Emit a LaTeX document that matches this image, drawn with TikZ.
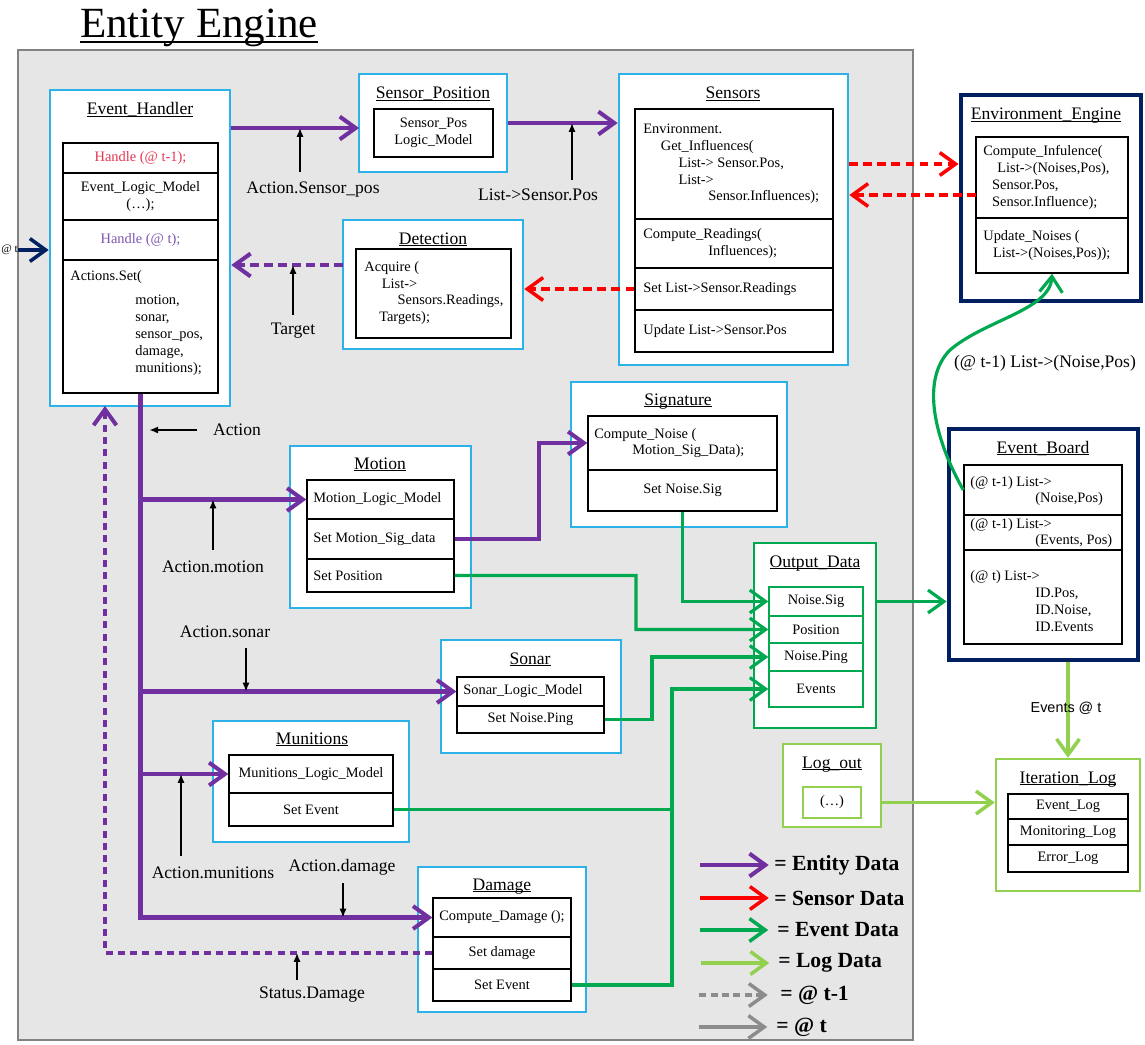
\documentclass[tikz,border=0pt]{standalone}
\usepackage{fontspec}
\setmainfont{Liberation Serif}
\newfontfamily\evsans{Liberation Sans}
\usetikzlibrary{arrows.meta,fit}
\definecolor{entitypurple}{RGB}{112,48,160}
\definecolor{sensorred}{RGB}{255,0,0}
\definecolor{eventgreen}{RGB}{0,168,80}
\definecolor{loggreen}{RGB}{146,208,80}
\definecolor{modcyan}{RGB}{45,178,232}
\definecolor{enginenavy}{RGB}{0,32,96}
\definecolor{framegray}{RGB}{230,230,230}
\definecolor{framedark}{RGB}{130,130,130}
\definecolor{legendgray}{RGB}{140,140,140}
\definecolor{handlered}{RGB}{232,52,82}
\definecolor{handlepurple}{RGB}{125,85,175}
\newcommand{\cellfont}{\fontsize{8.2}{9.6}\selectfont}
\newcommand{\labelfont}{\fontsize{10}{12}\selectfont}
\newsavebox\ulbox
\newcommand{\modul}[1]{\sbox\ulbox{#1}\rlap{\rule[-0.12em]{\wd\ulbox}{0.06em}}\usebox\ulbox}

\begin{document}
\begin{tikzpicture}[x=0.02cm,y=-0.02cm,
  modbox/.style={draw=modcyan,line width=1.5pt,fill=white,inner sep=0pt},
  enginebox/.style={draw=enginenavy,line width=2.8pt,fill=white,inner sep=0pt},
  outbox/.style={draw=eventgreen,line width=1.4pt,fill=white,inner sep=0pt},
  logbox/.style={draw=loggreen,line width=1.4pt,fill=white,inner sep=0pt},
  cell/.style={draw,line width=0.8pt,fill=white,inner sep=0pt},
  modtitle/.style={font=\labelfont,anchor=base,inner sep=0pt},
  ctext/.style={font=\cellfont,align=center,inner sep=0pt},
  ltext/.style={font=\cellfont,align=left,anchor=west,inner sep=0pt},
  outlabel/.style={font=\labelfont,inner sep=0pt},
  legendtext/.style={font=\fontsize{12.3}{14}\selectfont\bfseries,anchor=west,inner sep=0pt},
  barb/.style={-{Straight Barb[length=9pt,width=13pt]}},
  entity/.style={draw=entitypurple,line width=2.3pt},
  sensor/.style={draw=sensorred,line width=2pt,dash pattern=on 5pt off 3pt},
  event/.style={draw=eventgreen,line width=1.8pt},
  logdata/.style={draw=loggreen,line width=2pt},
  pointer/.style={draw=black,line width=0.8pt,-{Latex[length=5pt,width=4pt]}}]
\useasboundingbox (0,0) rectangle (1145,1044);
\node(eeframe) [draw=framedark,line width=1.2pt,fill=framegray,inner sep=0pt,fit={(18,50) (913,1040)}] {};
\node(eetitle) [font=\fontsize{24.5}{28}\selectfont,anchor=base,inner sep=0pt] at (199,38) {\modul{Entity Engine}};

\node(eh) [modbox,fit={(50,90) (230,406)}] {};
\node(ehT) [modtitle] at (140,115) {\modul{Event\_Handler}};
\node(ehA) [cell,fit={(63,143) (218,173)}] {};
\node(ehB) [cell,fit={(63,173) (218,220)}] {};
\node(ehC) [cell,fit={(63,220) (218,260)}] {};
\node(ehD) [cell,fit={(63,260) (218,393)}] {};
\node(ehAt) [ctext,text=handlered] at (ehA) {Handle (@ t-1);};
\node(ehBt) [ctext] at (ehB) {Event\_Logic\_Model\\(\ldots);};
\node(ehCt) [ctext,text=handlepurple] at (ehC) {Handle (@ t);};
\node(ehDt) [ltext] at (70,323) {Actions.Set(\\[4pt]\hspace*{37pt}motion,\\\hspace*{37pt}sonar,\\\hspace*{37pt}sensor\_pos,\\\hspace*{37pt}damage,\\\hspace*{37pt}munitions);};

\node(sp) [modbox,fit={(359,74) (507,172)}] {};
\node(spT) [modtitle] at (433,99) {\modul{Sensor\_Position}};
\node(spA) [cell,fit={(374,109) (493,157)}] {};
\node(spAt) [ctext] at (spA) {Sensor\_Pos\\Logic\_Model};

\node(sens) [modbox,fit={(619,74) (848,365)}] {};
\node(sensT) [modtitle] at (733,99) {\modul{Sensors}};
\node(sA) [cell,fit={(635,109) (833,219)}] {};
\node(sB) [cell,fit={(635,219) (833,268)}] {};
\node(sC) [cell,fit={(635,268) (833,310)}] {};
\node(sD) [cell,fit={(635,310) (833,352)}] {};
\node(sAt) [ltext] at (643,164) {Environment.\\\hspace*{10pt}Get\_Influences(\\\hspace*{20pt}List-> Sensor.Pos,\\\hspace*{20pt}List->\\\hspace*{37pt}Sensor.Influences);};
\node(sBt) [ltext] at (643,243.5) {Compute\_Readings(\\\hspace*{37pt}Influences);};
\node(sCt) [ltext] at (643,289) {Set List->Sensor.Readings};
\node(sDt) [ltext] at (643,331) {Update List->Sensor.Pos};

\node(env) [enginebox,fit={(961,95) (1141,301)}] {};
\node(envT) [modtitle] at (1046,120) {\modul{Environment\_Engine}};
\node(eA) [cell,fit={(976,137) (1128,218)}] {};
\node(eB) [cell,fit={(976,218) (1128,273)}] {};
\node(eAt) [ltext] at (983,177.5) {Compute\_Infulence(\\\hspace*{8pt}List->(Noises,Pos),\\\hspace*{5pt}Sensor.Pos,\\\hspace*{5pt}Sensor.Influence);};
\node(eBt) [ltext] at (983,245.5) {Update\_Noises (\\\hspace*{5.5pt}List->(Noises,Pos));};

\node(det) [modbox,fit={(343,220) (523,349)}] {};
\node(detT) [modtitle] at (433,244) {\modul{Detection}};
\node(dA) [cell,fit={(356,249) (511,338)}] {};
\node(dAt) [ltext] at (364,293) {Acquire (\\\hspace*{10pt}List->\\\hspace*{19pt}Sensors.Readings,\\\hspace*{8.5pt}Targets);};

\node(mot) [modbox,fit={(290,446) (471,608)}] {};
\node(motT) [modtitle] at (380,469) {\modul{Motion}};
\node(mA) [cell,fit={(307,480) (454,519)}] {};
\node(mB) [cell,fit={(307,519) (454,559)}] {};
\node(mC) [cell,fit={(307,559) (454,592)}] {};
\node(mAt) [ltext] at (313,499.5) {Motion\_Logic\_Model};
\node(mBt) [ltext] at (313,539) {Set Motion\_Sig\_data};
\node(mCt) [ltext] at (313,575.5) {Set Position};

\node(sig) [modbox,fit={(571,382) (787,527)}] {};
\node(sigT) [modtitle] at (678,405) {\modul{Signature}};
\node(sigA) [cell,fit={(588,416) (777,470)}] {};
\node(sigB) [cell,fit={(588,470) (777,511)}] {};
\node(sigAt) [ltext] at (594,443) {Compute\_Noise (\\\hspace*{21.6pt}Motion\_Sig\_Data);};
\node(sigBt) [ctext] at (sigB) {Set Noise.Sig};

\node(od) [outbox,fit={(754,543) (876,728)}] {};
\node(odT) [modtitle] at (815,567) {\modul{Output\_Data}};
\node(oA) [cell,draw=eventgreen,fit={(769,587) (863,616)}] {};
\node(oB) [cell,draw=eventgreen,fit={(769,616) (863,643)}] {};
\node(oC) [cell,draw=eventgreen,fit={(769,643) (863,671)}] {};
\node(oD) [cell,draw=eventgreen,fit={(769,671) (863,707)}] {};
\node(oAt) [ctext] at (oA) {Noise.Sig};
\node(oBt) [ctext] at (oB) {Position};
\node(oCt) [ctext] at (oC) {Noise.Ping};
\node(oDt) [ctext] at (oD) {Events};

\node(so) [modbox,fit={(441,640) (621,753)}] {};
\node(soT) [modtitle] at (530,664) {\modul{Sonar}};
\node(soA) [cell,fit={(457,677) (604,706)}] {};
\node(soB) [cell,fit={(457,706) (604,733)}] {};
\node(soAt) [ltext] at (463,691.5) {Sonar\_Logic\_Model};
\node(soBt) [ctext] at (soB) {Set Noise.Ping};

\node(mu) [modbox,fit={(213,721) (409,842)}] {};
\node(muT) [modtitle] at (312,744) {\modul{Munitions}};
\node(muA) [cell,fit={(229,755) (393,793)}] {};
\node(muB) [cell,fit={(229,793) (393,826)}] {};
\node(muAt) [ctext] at (muA) {Munitions\_Logic\_Model};
\node(muBt) [ctext] at (muB) {Set Event};

\node(dm) [modbox,fit={(418,867) (586,1012)}] {};
\node(dmT) [modtitle] at (502,890) {\modul{Damage}};
\node(dmA) [cell,fit={(433,898) (571,937)}] {};
\node(dmB) [cell,fit={(433,937) (571,969)}] {};
\node(dmC) [cell,fit={(433,969) (571,1001)}] {};
\node(dmAt) [ltext] at (439,917.5) {Compute\_Damage ();};
\node(dmBt) [ctext] at (dmB) {Set damage};
\node(dmCt) [ctext] at (dmC) {Set Event};

\node(lo) [logbox,fit={(783,744) (881,827)}] {};
\node(loT) [modtitle] at (832,768) {\modul{Log\_out}};
\node(loA) [cell,draw=loggreen,fit={(803,787) (861,818)}] {};
\node(loAt) [ctext] at (loA) {(\ldots)};

\node(eb) [enginebox,fit={(949,429) (1138,660)}] {};
\node(ebT) [modtitle] at (1043,453) {\modul{Event\_Board}};
\node(ebA) [cell,fit={(964,465) (1122,515)}] {};
\node(ebB) [cell,fit={(964,515) (1122,550)}] {};
\node(ebC) [cell,fit={(964,550) (1122,644)}] {};
\node(ebAt) [ltext] at (970,491) {(@ t-1) List->\\\hspace*{37pt}(Noise,Pos)};
\node(ebBt) [ltext] at (970,533) {(@ t-1) List->\\\hspace*{37pt}(Events, Pos)};
\node(ebCt) [ltext] at (970,601) {(@ t) List->\\\hspace*{37pt}ID.Pos,\\\hspace*{37pt}ID.Noise,\\\hspace*{37pt}ID.Events};

\node(il) [logbox,fit={(996,759) (1140,891)}] {};
\node(ilT) [modtitle] at (1068,783) {\modul{Iteration\_Log}};
\node(ilA) [cell,fit={(1008,794) (1128,819)}] {};
\node(ilB) [cell,fit={(1008,819) (1128,845)}] {};
\node(ilC) [cell,fit={(1008,845) (1128,872)}] {};
\node(ilAt) [ctext] at (ilA) {Event\_Log};
\node(ilBt) [ctext] at (ilB) {Monitoring\_Log};
\node(ilCt) [ctext] at (ilC) {Error\_Log};

\coordinate (spin) at (359,128);
\coordinate (envout) at (976,195);
\coordinate (detout) at (343,265);
\coordinate (jsig) at (539,443);
\coordinate (jpos) at (636,629.5);
\coordinate (jping) at (652,657);
\coordinate (jev) at (672,689);
\coordinate (jstat) at (105,406);

\node(tin) [font=\fontsize{6.5}{8}\selectfont,anchor=west,inner sep=0pt] at (1,250) {@ t};
\draw[draw=enginenavy,line width=2pt,barb] (tin.east) -- (tin.east -| eh.west);
\draw[entity,barb] (spin -| eh.east) -- (spin);
\draw[entity,barb] (sp.east) -- (sp.east -| sens.west);
\draw[sensor,barb] (sA.east -| sens.east) -- (sA.east -| env.west);
\draw[sensor,barb] (envout) -- (envout -| sens.east);
\draw[sensor,barb] (sC.west) -- (sC.west -| det.east);
\draw[entity,dash pattern=on 5pt off 3pt,barb] (detout) -- (detout -| eh.east);
\draw[entity,barb] (ehD.south) |- (dmA.west);
\draw[entity,barb] (ehD.south |- mA.west) -- (mA.west);
\draw[entity,barb] (ehD.south |- soA.west) -- (soA.west);
\draw[entity,barb] (ehD.south |- muA.west) -- (muA.west);
\draw[entity,dash pattern=on 4pt off 3pt,barb] (dmB.west) -| (jstat);
\draw[entity,barb] (mB.east) -| (jsig) -- (sigA.west);
\draw[event,barb] (sigB.south) |- (oA.west);
\draw[event,barb] (mC.east) -| (jpos) -- (oB.west);
\draw[event,barb] (soB.east) -| (jping) -- (oC.west);
\draw[event,barb] (muB.east) -| (jev) -- (oD.west);
\draw[event] (dmC.east) -| (jev |- muB.east);
\draw[event,barb] (oA.east -| od.east) -- (oA.east -| eb.west);
\draw[event,barb] (ebA.west) .. controls (935,440) and (920,380) .. (950,350) .. controls (985,320) and (1050,310) .. (eB.south);
\draw[logdata,barb] (il.north |- eb.south) -- (il.north);
\draw[logdata,barb] (loA.east -| lo.east) -- (loA.east -| il.west);

\node(curvelbl) [outlabel] at (1045,363) {(@ t-1) List->(Noise,Pos)};
\node(evlbl) [font=\evsans\fontsize{8.2}{10}\selectfont,inner sep=0pt] at (1066,708) {Events @ t};

\coordinate (pSp) at (300,172);
\coordinate (pPos) at (572,180);
\coordinate (pTg) at (293,315);
\coordinate (pAc) at (197,430);
\coordinate (pMo) at (213,550);
\coordinate (pSo) at (246,648);
\coordinate (pMu) at (181,856);
\coordinate (pDm) at (343,883);
\coordinate (pSt) at (297,980);
\node(lSp) [outlabel] at (313,190) {Action.Sensor\_pos};
\node(lPos) [outlabel] at (538,195) {List->Sensor.Pos};
\node(lTg) [outlabel] at (293,331) {Target};
\node(lAc) [outlabel] at (237,430) {Action};
\node(lMo) [outlabel] at (213,567) {Action.motion};
\node(lSo) [outlabel] at (225,632) {Action.sonar};
\node(lMu) [outlabel] at (213,873) {Action.munitions};
\node(lDm) [outlabel] at (342,867) {Action.damage};
\node(lSt) [outlabel] at (312,995) {Status.Damage};
\draw[pointer] (pSp) -- (pSp |- spin);
\draw[pointer] (pPos) -- (pPos |- sp.east);
\draw[pointer] (pTg) -- (pTg |- detout);
\draw[pointer,shorten >=5pt] (pAc) -- (pAc -| ehD.south);
\draw[pointer] (pMo) -- (pMo |- mA.west);
\draw[pointer] (pSo) -- (pSo |- soA.west);
\draw[pointer] (pMu) -- (pMu |- muA.west);
\draw[pointer] (pDm) -- (pDm |- dmA.west);
\draw[pointer] (pSt) -- (pSt |- dmB.west);

\node(legA) [legendtext] at (774,865) {= Entity Data};
\node(legB) [legendtext] at (774,898) {= Sensor Data};
\node(legC) [legendtext] at (777,930) {= Event Data};
\node(legD) [legendtext] at (778,963) {= Log Data};
\node(legE) [legendtext] at (780,995) {= @ t-1};
\node(legF) [legendtext] at (776,1027) {= @ t};
\draw[entity,barb] ([xshift=-42pt]legA.west) -- ([xshift=-3pt]legA.west);
\draw[sensor,solid,barb] ([xshift=-42pt]legB.west) -- ([xshift=-3pt]legB.west);
\draw[event,line width=2pt,barb] ([xshift=-44pt]legC.west) -- ([xshift=-5pt]legC.west);
\draw[logdata,barb] ([xshift=-44pt]legD.west) -- ([xshift=-5pt]legD.west);
\draw[draw=legendgray,line width=2pt,dash pattern=on 4pt off 2.5pt,barb] ([xshift=-46pt]legE.west) -- ([xshift=-7pt]legE.west);
\draw[draw=legendgray,line width=2pt,barb] ([xshift=-44pt]legF.west) -- ([xshift=-5pt]legF.west);
\end{tikzpicture}
\end{document}
